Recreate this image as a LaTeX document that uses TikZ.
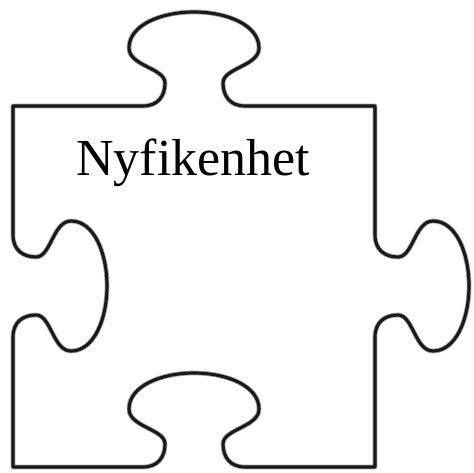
\documentclass[tikz,border=0pt]{standalone}
\usepackage{fontspec}
\setmainfont{Liberation Serif}
\begin{document}
\begin{tikzpicture}[x=1pt,y=-1pt,
  halo/.style={draw=black!35,line width=4.8pt,line join=round},
  outline/.style={draw=black!90,line width=3.1pt,line join=round},
  label/.style={anchor=base west,inner sep=0pt,font=\fontsize{52}{62}\selectfont}]
\useasboundingbox[fill=white] (0,0) rectangle (474,472);
\def\piece{(13,106) -- (143,106)
  .. controls (158,106) and (165,96) .. (165,83)
  .. controls (165,68) and (129,66) .. (129,48)
  .. controls (129,25) and (161,12) .. (194,12)
  .. controls (227,12) and (259,25) .. (259,48)
  .. controls (259,66) and (223,68) .. (223,83)
  .. controls (223,96) and (230,106) .. (245,106)
  -- (375,106) -- (375,235)
  .. controls (375,250) and (385,257) .. (398,257)
  .. controls (413,257) and (415,221) .. (433,221)
  .. controls (456,221) and (469,253) .. (469,286)
  .. controls (469,319) and (456,351) .. (433,351)
  .. controls (415,351) and (413,315) .. (398,315)
  .. controls (385,315) and (375,322) .. (375,337)
  -- (375,467) -- (245,467)
  .. controls (230,467) and (223,457) .. (223,444)
  .. controls (223,429) and (259,427) .. (259,409)
  .. controls (259,386) and (227,373) .. (194,373)
  .. controls (161,373) and (129,386) .. (129,409)
  .. controls (129,427) and (165,429) .. (165,444)
  .. controls (165,457) and (158,467) .. (143,467)
  -- (13,467) -- (13,337)
  .. controls (13,322) and (23,315) .. (36,315)
  .. controls (51,315) and (53,351) .. (71,351)
  .. controls (94,351) and (107,319) .. (107,286)
  .. controls (107,253) and (94,221) .. (71,221)
  .. controls (53,221) and (51,257) .. (36,257)
  .. controls (23,257) and (13,250) .. (13,235)
  -- cycle}
\path[halo] \piece;
\path[outline] \piece;
\node[label] (title) at (76,175) {Nyfikenhet};
\end{tikzpicture}
\end{document}
